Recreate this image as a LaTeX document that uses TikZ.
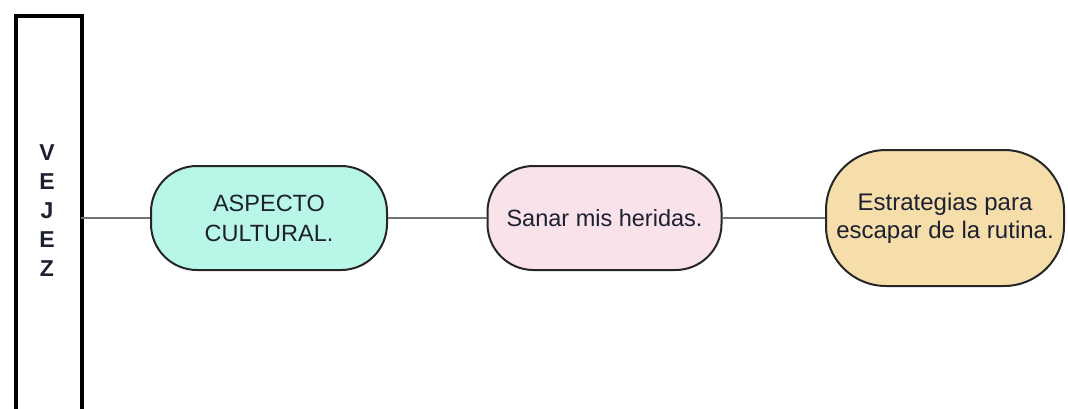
\documentclass[tikz,border=0pt]{standalone}
\usepackage{fontspec}
\setmainfont{Liberation Sans}
\definecolor{cmint}{HTML}{B8F6E8}
\definecolor{cpink}{HTML}{F9E2EA}
\definecolor{ctan}{HTML}{F6DEAB}
\definecolor{ctext}{HTML}{1C2030}
\begin{document}
\begin{tikzpicture}[x=1pt,y=1pt,
  pill/.style={draw=black!85, line width=2pt, inner sep=0pt, align=center,
    font=\fontsize{23.5}{30}\selectfont, text=ctext},
  link/.style={draw=black!55, line width=1.2pt}]
\useasboundingbox (0,0) rectangle (1068,-408);
\node[draw, line width=4pt, minimum width=66pt, minimum height=440pt, inner sep=0pt, anchor=north west] (vejez) at (14,-14) {};
\node[font=\bfseries\fontsize{23}{29}\selectfont, text=ctext, align=center] (vt) at (47,-211) {V\\E\\J\\E\\Z};
\node[pill, fill=cmint, minimum width=236pt, minimum height=104pt, rounded corners=46pt] (a) at (269,-218) {ASPECTO\\CULTURAL.};
\node[pill, fill=cpink, minimum width=234pt, minimum height=104pt, rounded corners=46pt] (b) at (604.5,-218) {Sanar mis heridas.};
\node[pill, fill=ctan, minimum width=238pt, minimum height=136pt, rounded corners=60pt, font=\fontsize{24}{28}\selectfont] (c) at (945,-218) {Estrategias para\\escapar de la rutina.};
\draw[link] (81,-218) -- (a.west);
\draw[link] (a.east) -- (b.west);
\draw[link] (b.east) -- (c.west);
\end{tikzpicture}
\end{document}
